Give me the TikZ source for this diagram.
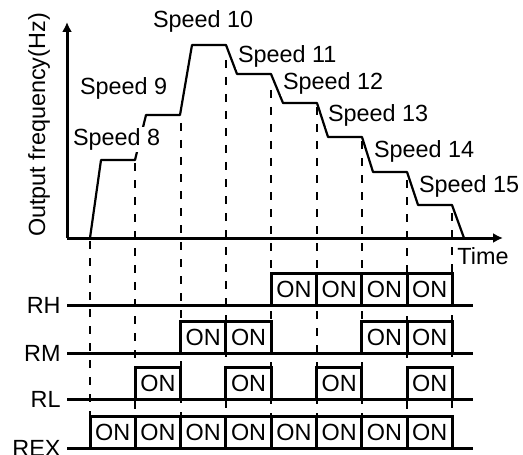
\documentclass[tikz,border=0pt]{standalone}
\usepackage{fontspec}
\setmainfont{Liberation Sans}
\usetikzlibrary{arrows.meta, positioning}
\newcommand{\chartfont}{\fontsize{11.7}{14}\selectfont}

\begin{document}
\begin{tikzpicture}[
    x=0.5pt, y=-0.5pt,
    axis/.style={line width=1.5pt},
    guide/.style={line width=1pt, dash pattern=on 4pt off 4.5pt},
    curve/.style={line width=1.1pt, line join=round},
    speed/.style={font=\chartfont, fill=white, inner sep=0.8pt, anchor=base west},
    relay/.style={font=\chartfont, anchor=east, inner sep=0pt},
    onbox/.style={line width=1.5pt},
    ontext/.style={font=\chartfont, inner sep=0pt}
]
    \useasboundingbox (0,0) rectangle (523,454);

    % Axes
    \coordinate (O) at (67,238);
    \coordinate (ytop) at (67,22);
    \coordinate (xend) at (503,238);
    \draw[axis, -{Latex[length=5pt,width=5pt]}] (O) -- (ytop);
    \draw[axis, -{Latex[length=5pt,width=5pt]}] (O) -- (xend);
    \node[font=\chartfont, rotate=90, inner sep=0pt] (ylab) at (39,125) {Output frequency(Hz)};
    \node[font=\chartfont, anchor=north west, inner sep=0pt] (time) at (457,247) {Time};

    % Dashed time marks
    \foreach \i/\ys in {0/241, 1/163, 2/123, 3/60, 4/90, 5/107, 6/141, 7/180, 8/213}
        \draw[guide] ({90+45.3*\i},\ys) -- ({90+45.3*\i},415);

    % Frequency curve
    \draw[curve] (90,238) -- (101,160) -- (135,160) -- (146,115) -- (180,115)
        -- (192,45) -- (226,45) -- (237,74) -- (271,74) -- (283,103) -- (317,103)
        -- (328,137) -- (362,137) -- (373,172) -- (407,172) -- (418,205)
        -- (452,205) -- (464,238);

    % Speed labels
    \node[speed] (sp8) at (71,146) {Speed 8};
    \node[speed] (sp9) at (78,95) {Speed 9};
    \node[speed] (sp10) at (151,28) {Speed 10};
    \node[speed] (sp11) at (236,63) {Speed 11};
    \node[speed] (sp12) at (281,90) {Speed 12};
    \node[speed] (sp13) at (326,122) {Speed 13};
    \node[speed] (sp14) at (372,157) {Speed 14};
    \node[speed] (sp15) at (417,192) {Speed 15};

    % Signal lines
    \foreach \name/\y in {RH/305, RM/353, RL/399, REX/448} {
        \coordinate (\name-a) at (67,\y);
        \coordinate (\name-b) at (473,\y);
        \draw[axis] (\name-a) -- (\name-b);
        \node[relay] (lab-\name) at (61,\y) {\name};
    }

    % ON pulses
    \foreach \y/\cells in {305/{4,5,6,7}, 353/{2,3,6,7}, 399/{1,3,5,7}, 448/{0,1,2,3,4,5,6,7}} {
        \foreach \c in \cells {
            \draw[onbox] ({90+45.3*\c},\y) |- ({90+45.3*(\c+1)},\y-32) -- ({90+45.3*(\c+1)},\y);
            \node[ontext] (on-\y-\c) at ({90+45.3*(\c+0.5)},\y-16) {ON};
        }
    }
\end{tikzpicture}
\end{document}
